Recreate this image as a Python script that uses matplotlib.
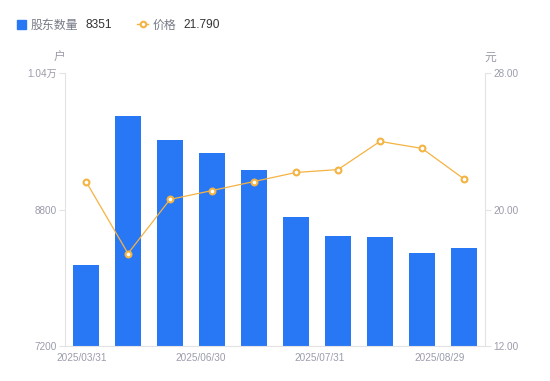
import matplotlib
matplotlib.use("Agg")
import matplotlib.pyplot as plt
from matplotlib.lines import Line2D

plt.rcParams['font.family'] = ['Liberation Sans', 'Noto Sans CJK SC', 'DejaVu Sans']

# data
holders = [8149, 9896, 9614, 9462, 9263, 8712, 8489, 8478, 8290, 8351]
prices = [21.64, 17.42, 20.59, 21.11, 21.64, 22.17, 22.34, 23.99, 23.58, 21.79]
date_labels = ["2025/03/31", "2025/06/30", "2025/07/31", "2025/08/29"]
date_pos = [-0.1, 2.74, 5.57, 8.43]
left_ticks = [7200, 8800, 10400]
left_labels = ["7200", "8800", "1.04万"]
right_ticks = [12, 20, 28]

blue = "#2878f5"
orange = "#f5b342"
grey = "#9a9caa"
axis_grey = "#e3e3e3"

fig = plt.figure(figsize=(5.5, 3.81), dpi=100)
ax = fig.add_axes([65 / 550, 35 / 381, 420 / 550, 273 / 381])
ax2 = ax.twinx()

x = list(range(len(holders)))
ax.bar(x, [h - 7200 for h in holders], bottom=7200, width=0.6, color=blue, zorder=2)
ax.set_xlim(-0.5, 9.5)
ax.set_ylim(7200, 10400)
ax.set_yticks(left_ticks)
ax.set_yticklabels(left_labels)

ax2.plot(x, prices, color=orange, lw=0.9, marker="o", ms=4.2,
         mfc="white", mec=orange, mew=1.5, zorder=3)
ax2.set_ylim(12, 28)
ax2.set_yticks(right_ticks)
ax2.set_yticklabels(["%.2f" % t for t in right_ticks])

for a in (ax, ax2):
    for s in a.spines.values():
        s.set_visible(False)
    a.tick_params(axis="y", colors=axis_grey, labelcolor=grey, labelsize=7.2,
                  length=4, width=0.8, pad=2)
ax.spines["left"].set_visible(True)
ax.spines["left"].set_color(axis_grey)
ax.spines["bottom"].set_visible(True)
ax.spines["bottom"].set_color(axis_grey)
ax2.spines["right"].set_visible(True)
ax2.spines["right"].set_color(axis_grey)

ax.set_xticks(date_pos)
ax.set_xticklabels(date_labels)
ax.tick_params(axis="x", length=0, labelcolor=grey, labelsize=7.2, pad=5)

fig.text(59 / 550, 1 - 58 / 381, "户", color=grey, fontsize=8.5, ha="center", va="center")
fig.text(490 / 550, 1 - 58 / 381, "元", color=grey, fontsize=8.5, ha="center", va="center")

# legend row
ly = 1 - 25.5 / 381
fig.patches.append(plt.Rectangle((17 / 550, 1 - 28.5 / 381), 8.5 / 550, 8.5 / 381,
                                 transform=fig.transFigure, color=blue, figure=fig))
fig.text(31 / 550, ly, "股东数量", color="#777a85", fontsize=8.6, va="center")
fig.text(85 / 550, ly, "8351", color="#333333", fontsize=8.6, va="center")
fig.lines.append(Line2D([137 / 550, 148 / 550], [1 - 24 / 381] * 2, transform=fig.transFigure,
                        color=orange, lw=1, figure=fig))
fig.lines.append(Line2D([142.5 / 550], [1 - 24 / 381], transform=fig.transFigure, marker="o",
                        ms=4, mfc="white", mec=orange, mew=1.5, figure=fig))
fig.text(153 / 550, ly, "价格", color="#777a85", fontsize=8.6, va="center")
fig.text(183 / 550, ly, "21.790", color="#333333", fontsize=8.6, va="center")

fig.savefig("out.png", dpi=100)
